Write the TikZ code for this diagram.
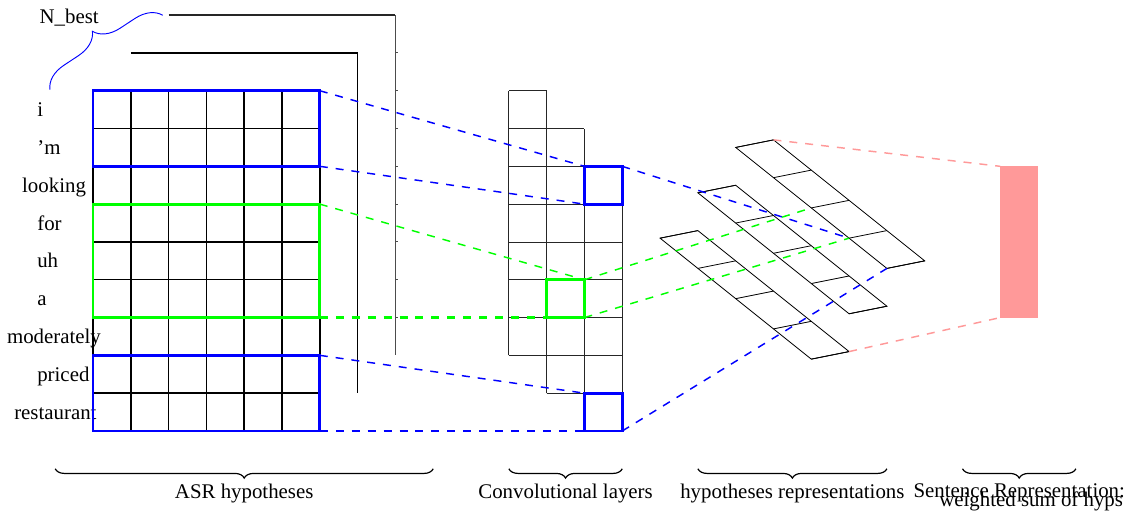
\documentclass[tikz,border=0pt]{standalone}
\usepackage{fontspec}
\setmainfont{Liberation Serif}
\usetikzlibrary{decorations.pathreplacing}

\tikzset{
  cell/.style={line width=1.1pt},
  convcell/.style={line width=0.6pt, black!85},
  hl/.style={draw, line width=2.2pt, inner sep=0pt, outer sep=0pt, anchor=south west},
  proj/.style={line width=1.1pt, dash pattern=on 6pt off 6pt},
  word/.style={anchor=base west, inner sep=0pt},
  lbl/.style={decorate, decoration={brace, amplitude=7pt}, line width=0.9pt},
}

\begin{document}
\begin{tikzpicture}[every node/.style={font=\fontsize{15.7}{18.8}\selectfont}]

    \useasboundingbox (-2.46,-2.33) rectangle (27.51,11.40);

    % the N best hypotheses, stacked behind each other
    \draw[black!70, line width=0.7pt] (8,11) -- (8,2);
    \foreach \y in {3,...,10}
        \draw[black!70, line width=0.7pt] (8,\y) -- ++(0.07,0);
    \draw[cell, black!85] (2,11) -- (8,11);
    \draw[cell] (1,10) -- (7,10) -- (7,1);
    \draw[cell] (0,0) grid (6,9);

    % words of the first hypothesis
    \foreach \w/\x [count=\i] in {i/-1.48, ’m/-1.48, looking/-1.88, for/-1.48, uh/-1.48, a/-1.48, moderately/-2.28, priced/-1.48, restaurant/-2.09}
        \node[word] (w\i) at (\x,9.315-\i) {\w};

    \node[anchor=base] (nbest) at (-0.63,10.79) {N\_best};
    \draw[blue, line width=0.7pt, decorate, decoration={brace, amplitude=19pt}] (-1.14,9.03) -- (1.85,11);

    % windows of the filters
    \node[hl, blue, minimum width=6cm, minimum height=2cm] (hypTop) at (0,7) {};
    \node[hl, green, minimum width=6cm, minimum height=3cm] (hypMid) at (0,3) {};
    \node[hl, blue, minimum width=6cm, minimum height=2cm] (hypBot) at (0,0) {};

    % convolutional layers
    \draw[convcell] (11,2) grid (12,9);
    \draw[convcell] (12,1) grid (13,8);
    \draw[convcell] (13,0) grid (14,7);
    \node[hl, blue, minimum size=1cm] (convTop) at (13,6) {};
    \node[hl, green, minimum size=1cm] (convMid) at (12,3) {};
    \node[hl, blue, minimum size=1cm] (convBot) at (13,0) {};

    % hypotheses representations
    \foreach \s/\o in {C/{15,5.1}, B/{16,6.3}, A/{17,7.5}} {
        \begin{scope}[shift={(\o)}, x={(1cm,0.2cm)}, y={(1cm,-0.8cm)}]
            \draw[convcell, black] (0,0) -- (1,0) -- (1,4) -- (0,4) -- cycle;
            \foreach \i in {0,...,4} {
                \draw[convcell, black] (0,\i) -- (1,\i);
                \coordinate (\s-\i) at (0,\i);
            }
            \coordinate (\s-tr) at (1,0);
            \coordinate (\s-br) at (1,4);
        \end{scope}
    }

    % sentence representation
    \node[fill=red!40, inner sep=0pt, outer sep=0pt, minimum width=1cm, minimum height=4cm, anchor=south west] (sent) at (24,3) {};

    % projections
    \draw[proj, blue] (hypTop.north east) -- (convTop.north west);
    \draw[proj, blue] (hypTop.south east) -- (convTop.south west);
    \draw[proj, blue] (hypBot.north east) -- (convBot.north west);
    \draw[proj, blue] (hypBot.south east) -- (convBot.south west);
    \draw[proj, green] (hypMid.north east) -- (convMid.north east);
    \draw[proj, green, line width=1.6pt] (hypMid.south east) -- (convMid.south west);

    \draw[proj, blue] (convTop.north east) -- (A-3);
    \draw[proj, blue] (convBot.south east) -- (A-4);
    \draw[proj, green] (convMid.north east) -- (A-2);
    \draw[proj, green] (convMid.south east) -- (A-3);

    \draw[proj, red!40] (A-tr) -- (sent.north west);
    \draw[proj, red!40] (C-br) -- (sent.south west);

    % add labels
    \draw[lbl] (9,-1) -- (-1,-1) node[midway, below, yshift=-7.7pt] (lblASR) {ASR hypotheses};
    \draw[lbl] (14,-1) -- (11,-1) node[midway, below, yshift=-7.7pt] (lblConv) {Convolutional layers};
    \draw[lbl] (21,-1) -- (16,-1) node[midway, below, yshift=-7.7pt] (lblHyp) {hypotheses representations};
    \draw[lbl] (26,-1) -- (23,-1) node[midway, below, yshift=-7.7pt, align=center] (lblSent) {Sentence Representation:\\[-12pt]\hspace*{18pt}weighted sum of hyps};

\end{tikzpicture}
\end{document}
